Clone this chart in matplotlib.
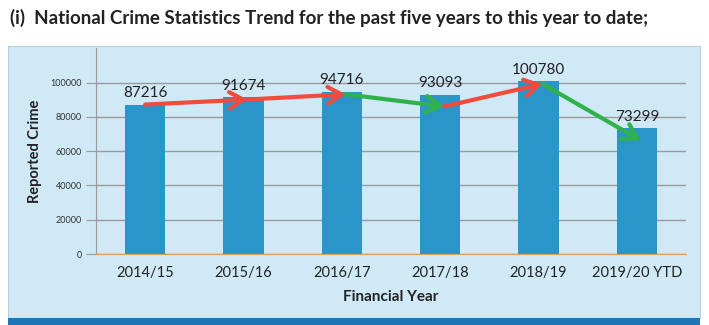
import matplotlib.pyplot as plt
from matplotlib.patches import Rectangle

years = ["2014/15", "2015/16", "2016/17", "2017/18", "2018/19", "2019/20 YTD"]
crimes = [87216, 91674, 94716, 93093, 100780, 73299]
yticks = [0, 20000, 40000, 60000, 80000, 100000]

plt.rcParams["font.family"] = ["Lato", "DejaVu Sans"]

fig = plt.figure(figsize=(7.09, 3.25), dpi=100)
W, H = 709, 325

# light blue panel and dark band at the bottom (page background of the scan)
fig.patches.append(Rectangle((8 / W, 7 / H), 692 / W, 272 / H, transform=fig.transFigure,
                             facecolor="#cfe9f6", edgecolor="#b9cfd9", lw=0.8, zorder=-2))
fig.patches.append(Rectangle((8 / W, 0), 692 / W, 7 / H, transform=fig.transFigure,
                             facecolor="#1f76b6", edgecolor="none", zorder=-2))

fig.text(10 / W, 1 - 18 / H, "(i)  National Crime Statistics Trend for the past five years to this year to date;",
         fontsize=13.5, fontweight="bold", color="#222222", va="center", ha="left")

ax = fig.add_axes([96 / W, 1 - 254 / H, 590 / W, 205.6 / H])
ax.set_facecolor("none")
ax.set_zorder(1)

x = list(range(len(years)))
ax.bar(x, crimes, width=0.41, color="#2a95c9", zorder=2)

for i, v in enumerate(crimes):
    ax.text(i, v + 2500, str(v), ha="center", va="bottom", fontsize=11, color="#222222", zorder=4)

# trend arrows: red for increase, green for decrease
start = (x[0], crimes[0])
for i in range(len(crimes) - 1):
    up = crimes[i + 1] > crimes[i]
    end = (x[i + 1] + 0.04, crimes[i + 1] - (1500 if up else 7000))
    ax.annotate("", xy=end, xytext=start,
                arrowprops=dict(arrowstyle="->,head_length=1.0,head_width=0.6",
                                color="#f04b3c" if up else "#2fb24a", lw=3,
                                shrinkA=0, shrinkB=0),
                zorder=5)
    start = end

ax.set_xlim(-0.5, len(years) - 0.5)
ax.set_ylim(0, 120000)
ax.set_yticks(yticks)
ax.set_yticklabels([str(t) for t in yticks], fontsize=6.5, color="#333333")
ax.set_xticks(x)
ax.set_xticklabels(years, fontsize=10.5, color="#222222")
ax.tick_params(axis="y", length=7, color="#999999", pad=3)
ax.tick_params(axis="x", length=0, pad=9)
ax.yaxis.grid(True, color="#9a9a9a", lw=1)
ax.set_axisbelow(True)

for s in ["top", "right"]:
    ax.spines[s].set_visible(False)
ax.spines["left"].set_color("#999999")
ax.spines["bottom"].set_color("#d9a35c")
ax.spines["bottom"].set_zorder(3)

ax.set_ylabel("Reported Crime", fontsize=10.5, fontweight="bold", color="#222222", labelpad=6)
ax.set_xlabel("Financial Year", fontsize=11, fontweight="bold", color="#222222", labelpad=7)

fig.savefig("out.png", dpi=100)
